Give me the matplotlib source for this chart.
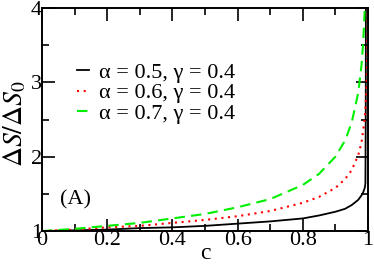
import matplotlib
matplotlib.use("Agg")
import matplotlib.pyplot as plt
from matplotlib.ticker import MultipleLocator

plt.rcParams['font.family'] = ['Liberation Serif', 'DejaVu Serif']
plt.rcParams['mathtext.fontset'] = 'stix'

c_black = [0, 0.1, 0.2, 0.3, 0.4, 0.5, 0.6, 0.7, 0.8, 0.85, 0.9, 0.93, 0.95, 0.97, 0.98, 0.985, 0.99, 0.992, 0.993, 0.9935]
y_black = [1.0, 1.01, 1.02, 1.04, 1.05, 1.07, 1.10, 1.13, 1.17, 1.21, 1.26, 1.30, 1.35, 1.42, 1.48, 1.52, 1.58, 1.64, 2.5, 4.2]

c_red = [0, 0.1, 0.2, 0.3, 0.4, 0.5, 0.6, 0.7, 0.8, 0.85, 0.9, 0.93, 0.95, 0.97, 0.98, 0.99, 0.995, 0.998, 0.999, 0.9995]
y_red = [1.0, 1.02, 1.05, 1.07, 1.11, 1.15, 1.20, 1.27, 1.38, 1.46, 1.58, 1.70, 1.82, 2.02, 2.19, 2.51, 2.88, 3.47, 3.98, 4.2]

c_green = [0, 0.1, 0.2, 0.3, 0.4, 0.5, 0.6, 0.7, 0.8, 0.85, 0.9, 0.93, 0.95, 0.97, 0.98, 0.985, 0.99, 0.991]
y_green = [1.0, 1.03, 1.07, 1.11, 1.17, 1.23, 1.32, 1.43, 1.62, 1.77, 2.0, 2.22, 2.46, 2.86, 3.23, 3.52, 3.98, 4.1]

labels = ['α = 0.5, γ = 0.4', 'α = 0.6, γ = 0.4', 'α = 0.7, γ = 0.4']

fig = plt.figure(figsize=(3.74, 2.65), dpi=100)
ax = fig.add_axes([0.112, 0.128, 0.872, 0.842])

ax.plot(c_black, y_black, color='black', lw=1.3, ls='-', label=labels[0])
ax.plot(c_red, y_red, color='#ff0000', lw=1.5, ls=(0, (1, 2.2)), label=labels[1])
ax.plot(c_green, y_green, color='#00ee00', lw=1.5, ls=(0, (5, 3)), label=labels[2])

ax.set_xlim(0, 1)
ax.set_ylim(1, 4)
ax.xaxis.set_minor_locator(MultipleLocator(0.1))
ax.yaxis.set_minor_locator(MultipleLocator(0.5))
xt = [0, 0.2, 0.4, 0.6, 0.8, 1]
ax.set_xticks(xt)
ax.set_xticklabels(['0', '0.2', '0.4', '0.6', '0.8', '1'])
ax.set_yticks([1, 2, 3, 4])
ax.set_yticklabels(['1', '2', '3', '4'])
ax.tick_params(which='both', direction='in', top=True, right=True, width=1.2, labelsize=16)
ax.tick_params(axis='x', pad=0)
ax.tick_params(axis='y', pad=0)
ax.tick_params(which='major', length=9)
ax.tick_params(which='minor', length=5)
for s in ax.spines.values():
    s.set_linewidth(1.4)

ax.set_xlabel('c', fontsize=17, labelpad=-5)
ax.set_ylabel(r'$\Delta S/\Delta S_0$', fontsize=20)
ax.yaxis.set_label_coords(-0.04, 0.48)

ax.legend(loc='upper left', bbox_to_anchor=(0.08, 0.796), frameon=False, fontsize=16,
          handlelength=0.55, handletextpad=0.45, labelspacing=0.0, borderaxespad=0)

ax.text(0.055, 0.139, '(A)', transform=ax.transAxes, fontsize=16, va='center', ha='left')

fig.savefig('out.png', dpi=100)
